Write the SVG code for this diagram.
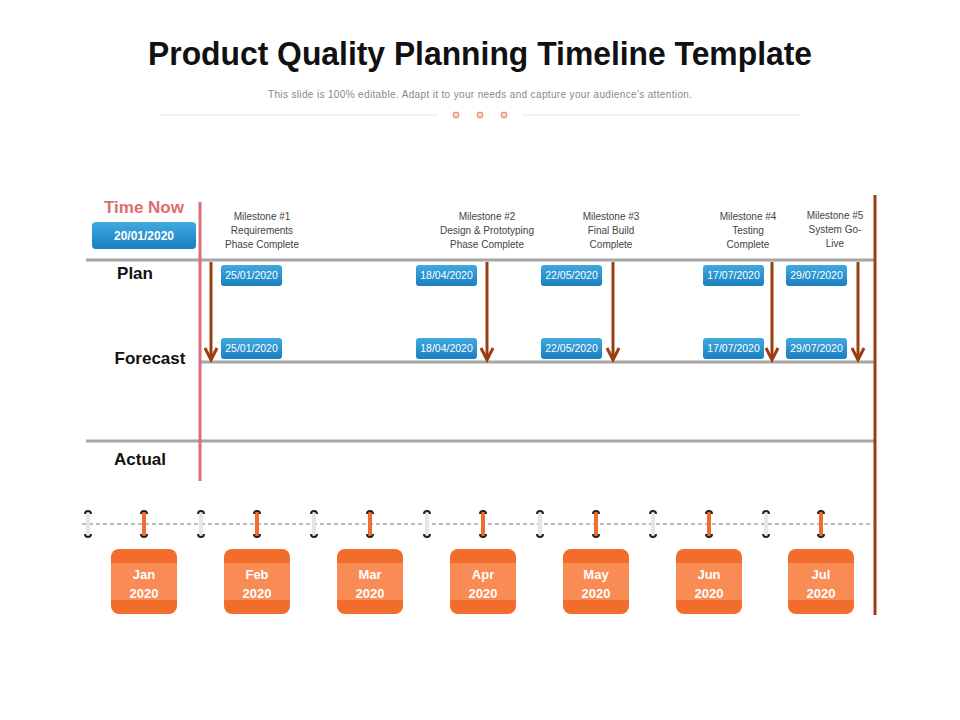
<svg xmlns="http://www.w3.org/2000/svg" width="960" height="720" viewBox="0 0 960 720">
<defs>
<style>
.t{font-family:"Liberation Sans",Arial,sans-serif}
.ms{font-family:"Liberation Sans",Arial,sans-serif;font-size:10px;fill:#444;text-anchor:middle}
.row{font-family:"Liberation Sans",Arial,sans-serif;font-size:17px;font-weight:bold;fill:#111;text-anchor:middle}
.db{fill:url(#bl)}
.dt{font-family:"Liberation Sans",Arial,sans-serif;font-size:10.5px;fill:#fff;text-anchor:middle}
.hl{stroke:#a6a6a6;stroke-width:3}
.ar{stroke:#9a3d12;stroke-width:3;fill:none}
.mo{font-family:"Liberation Sans",Arial,sans-serif;font-size:13px;font-weight:bold;fill:#fff;text-anchor:middle}
.ro{stroke:#f26c2b;stroke-width:4;stroke-linecap:round}
.rg{stroke:#e6e6e6;stroke-width:4;stroke-linecap:round}
.rk{fill:none;stroke:#222;stroke-width:2}
</style>
<linearGradient id="bl" x1="0" y1="0" x2="0" y2="1"><stop offset="0" stop-color="#3fa9e0"/><stop offset="1" stop-color="#1a7fc0"/></linearGradient>
<g id="ring"><path class="rk" d="M-3,-10 a3,3 0 0 1 6,0 M-3,10 a3,3 0 0 0 6,0"/></g>
<g id="mbox"><rect x="-33" y="0" width="66" height="65" rx="8" fill="#f26c2b"/><rect x="-33" y="14" width="66" height="37" fill="#f98c55"/></g>
</defs>
<rect width="960" height="720" fill="#fff"/>
<g id="header">
<text class="t" x="480" y="65" font-size="34" font-weight="bold" fill="#111" text-anchor="middle" textLength="664" lengthAdjust="spacingAndGlyphs">Product Quality Planning Timeline Template</text>
<text class="t" x="480" y="98" font-size="10" fill="#888" text-anchor="middle" textLength="424">This slide is 100% editable. Adapt it to your needs and capture your audience's attention.</text>
<line x1="160" y1="115" x2="438" y2="115" stroke="#eee" stroke-width="1.5"/>
<line x1="522" y1="115" x2="800" y2="115" stroke="#eee" stroke-width="1.5"/>
<g fill="#fbd5c8" stroke="#e57b62"><circle cx="456" cy="115" r="3"/><circle cx="480" cy="115" r="3"/><circle cx="504" cy="115" r="3"/></g>
</g>
<g id="grid">
<line class="hl" x1="86" y1="260" x2="875" y2="260"/>
<line class="hl" x1="200" y1="362" x2="875" y2="362"/>
<line class="hl" x1="86" y1="441" x2="875" y2="441"/>
<line x1="200" y1="202" x2="200" y2="481" stroke="#d9707a" stroke-width="3"/>
<line x1="875" y1="195" x2="875" y2="615" stroke="#9a3d12" stroke-width="3"/>
</g>
<g id="labels">
<text class="t" x="144" y="213" font-size="17" font-weight="bold" fill="#e06d6d" text-anchor="middle">Time Now</text>
<rect x="92" y="222" width="104" height="27" rx="4" class="db"/>
<text class="t" x="144" y="240" font-size="12" font-weight="bold" fill="#fff" text-anchor="middle">20/01/2020</text>
<text class="row" x="135" y="279">Plan</text>
<text class="row" x="150" y="364">Forecast</text>
<text class="row" x="140" y="465">Actual</text>
</g>
<g id="milestones">
<text class="ms" x="262" y="220">Milestone #1</text><text class="ms" x="262" y="234">Requirements</text><text class="ms" x="262" y="248">Phase Complete</text>
<text class="ms" x="487" y="220">Milestone #2</text><text class="ms" x="487" y="234">Design &amp; Prototyping</text><text class="ms" x="487" y="248">Phase Complete</text>
<text class="ms" x="611" y="220">Milestone #3</text><text class="ms" x="611" y="234">Final Build</text><text class="ms" x="611" y="248">Complete</text>
<text class="ms" x="748" y="220">Milestone #4</text><text class="ms" x="748" y="234">Testing</text><text class="ms" x="748" y="248">Complete</text>
<text class="ms" x="835" y="219">Milestone #5</text><text class="ms" x="835" y="233">System Go-</text><text class="ms" x="835" y="247">Live</text>
</g>
<g id="connectors">
<g class="ar">
<line x1="211" y1="262" x2="211" y2="358"/><path d="M205,348 L211,360 L217,348"/>
<line x1="487" y1="262" x2="487" y2="358"/><path d="M481,348 L487,360 L493,348"/>
<line x1="613" y1="262" x2="613" y2="358"/><path d="M607,348 L613,360 L619,348"/>
<line x1="772" y1="262" x2="772" y2="358"/><path d="M766,348 L772,360 L778,348"/>
<line x1="858" y1="262" x2="858" y2="358"/><path d="M852,348 L858,360 L864,348"/>
</g>
</g>
<g id="dates">
<g><rect x="221" y="265" width="61" height="21" rx="3" class="db"/><text class="dt" x="251.5" y="279">25/01/2020</text></g>
<g><rect x="416" y="265" width="61" height="21" rx="3" class="db"/><text class="dt" x="446.5" y="279">18/04/2020</text></g>
<g><rect x="541" y="265" width="61" height="21" rx="3" class="db"/><text class="dt" x="571.5" y="279">22/05/2020</text></g>
<g><rect x="703" y="265" width="61" height="21" rx="3" class="db"/><text class="dt" x="733.5" y="279">17/07/2020</text></g>
<g><rect x="786" y="265" width="61" height="21" rx="3" class="db"/><text class="dt" x="816.5" y="279">29/07/2020</text></g>
<g><rect x="221" y="338" width="61" height="21" rx="3" class="db"/><text class="dt" x="251.5" y="352">25/01/2020</text></g>
<g><rect x="416" y="338" width="61" height="21" rx="3" class="db"/><text class="dt" x="446.5" y="352">18/04/2020</text></g>
<g><rect x="541" y="338" width="61" height="21" rx="3" class="db"/><text class="dt" x="571.5" y="352">22/05/2020</text></g>
<g><rect x="703" y="338" width="61" height="21" rx="3" class="db"/><text class="dt" x="733.5" y="352">17/07/2020</text></g>
<g><rect x="786" y="338" width="61" height="21" rx="3" class="db"/><text class="dt" x="816.5" y="352">29/07/2020</text></g>
</g>
<g id="rings">
<line x1="82" y1="524" x2="875" y2="524" stroke="#777" stroke-dasharray="4,3"/>
<g class="rg"><line x1="88" y1="514" x2="88" y2="534"/><line x1="201" y1="514" x2="201" y2="534"/><line x1="314" y1="514" x2="314" y2="534"/><line x1="427" y1="514" x2="427" y2="534"/><line x1="540" y1="514" x2="540" y2="534"/><line x1="653" y1="514" x2="653" y2="534"/><line x1="766" y1="514" x2="766" y2="534"/></g>
<g class="ro"><line x1="144" y1="514" x2="144" y2="534"/><line x1="257" y1="514" x2="257" y2="534"/><line x1="370" y1="514" x2="370" y2="534"/><line x1="483" y1="514" x2="483" y2="534"/><line x1="596" y1="514" x2="596" y2="534"/><line x1="709" y1="514" x2="709" y2="534"/><line x1="821" y1="514" x2="821" y2="534"/></g>
<use href="#ring" x="88" y="524"/><use href="#ring" x="201" y="524"/><use href="#ring" x="314" y="524"/><use href="#ring" x="427" y="524"/><use href="#ring" x="540" y="524"/><use href="#ring" x="653" y="524"/><use href="#ring" x="766" y="524"/>
<use href="#ring" x="144" y="524"/><use href="#ring" x="257" y="524"/><use href="#ring" x="370" y="524"/><use href="#ring" x="483" y="524"/><use href="#ring" x="596" y="524"/><use href="#ring" x="709" y="524"/><use href="#ring" x="821" y="524"/>
</g>
<g id="m-jan"><use href="#mbox" x="144" y="549"/><text class="mo" x="144" y="579">Jan</text><text class="mo" x="144" y="598">2020</text></g>
<g id="m-feb"><use href="#mbox" x="257" y="549"/><text class="mo" x="257" y="579">Feb</text><text class="mo" x="257" y="598">2020</text></g>
<g id="m-mar"><use href="#mbox" x="370" y="549"/><text class="mo" x="370" y="579">Mar</text><text class="mo" x="370" y="598">2020</text></g>
<g id="m-apr"><use href="#mbox" x="483" y="549"/><text class="mo" x="483" y="579">Apr</text><text class="mo" x="483" y="598">2020</text></g>
<g id="m-may"><use href="#mbox" x="596" y="549"/><text class="mo" x="596" y="579">May</text><text class="mo" x="596" y="598">2020</text></g>
<g id="m-jun"><use href="#mbox" x="709" y="549"/><text class="mo" x="709" y="579">Jun</text><text class="mo" x="709" y="598">2020</text></g>
<g id="m-jul"><use href="#mbox" x="821" y="549"/><text class="mo" x="821" y="579">Jul</text><text class="mo" x="821" y="598">2020</text></g>
</svg>
